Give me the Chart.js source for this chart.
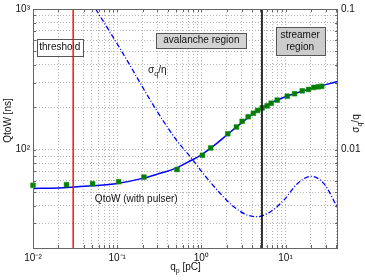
<!DOCTYPE html>
<html><head><meta charset="utf-8">
<script src="https://cdn.jsdelivr.net/npm/chart.js@4.4.1/dist/chart.umd.min.js"></script>
<style>html,body{margin:0;padding:0;background:#fff;}canvas{display:block;}</style>
</head><body>
<canvas id="c" width="365" height="280" style="width:365px;height:280px"></canvas>
<script>
// ---------- data ----------
const fitQ = [0.01,0.02,0.03,0.05,0.1,0.2,0.3,0.5,0.7,1,1.5,2,3,5,7,10,15,20,30,42];
const fitW = [53,53.5,54.2,55.3,57.5,62.5,67,74,82,92,110,127,155,195,218,238,258,271,290,306];

const measQ = [0.01,0.025,0.051,0.104,0.208,0.514,1.03,1.29,2.06,2.61,3.05,3.6,4.15,4.65,5.28,6.05,6.76,7.97,10.5,12.8,15.8,18.8,21.7,24.5,26.9];
const measW = [55.8,56.4,57.3,59.2,63.8,72.3,91.2,102.8,129.8,145,159,171.5,181.5,190,198,205,214,225,240,250,262,268,277,280,282];

const sigmaQ = [0.0555,0.1137,0.297,0.514,0.775,1.02,1.68,2.43,3.5,4.6,6.62,9.55,13.8,19.9,28.6,42];
const sigmaRatio = [0.1,0.0498,0.0188,0.01156,0.00859,0.00692,0.00488,0.00393,0.00343,0.00334,0.00362,0.00438,0.00573,0.00646,0.00573,0.0038];

const thresholdQ = [0.03, 0.03];
const streamerQ = [5.25, 5.25];
const markerSpanW = [20, 1000];

function decades(fromExp, toExp, lastMant) {
  const out = [];
  for (let e = fromExp; e <= toExp; e++) {
    for (let m = 1; m <= 9; m++) {
      if (e === toExp && m > lastMant) break;
      out.push(parseFloat((m * Math.pow(10, e)).toPrecision(3)));
    }
  }
  return out;
}
const xTickVals = decades(-2, 1, 4);          // 0.01 ... 40
const yTickVals = decades(1, 3, 1).slice(1);  // 20 ... 1000
const y2TickVals = decades(-3, -1, 1).slice(1); // 0.002 ... 0.1
const xTickLabels = [[0.01,'10⁻²'],[0.1,'10⁻¹'],[1,'10⁰'],[10,'10¹']];
const yTickLabels = [[100,'10²'],[1000,'10³']];
const y2TickLabels = [[0.01,'0.01'],[0.1,'0.1']];

const FONT = '"Liberation Sans", Arial, Helvetica, sans-serif';
Chart.defaults.font.family = FONT;

function labelFor(list) {
  return function (v) {
    for (const [k, t] of list) if (Math.abs(Math.log10(v) - Math.log10(k)) < 1e-6) return t;
    return '';
  };
}

function richWidth(ctx, parts) {
  let w = 0;
  for (const p of parts) { ctx.font = p.size + 'px ' + FONT; w += ctx.measureText(p.t).width; }
  return w;
}
function drawRich(ctx, parts, x, y, align) {
  const w = richWidth(ctx, parts);
  let cx = align === 'center' ? x - w / 2 : (align === 'right' ? x - w : x);
  ctx.textAlign = 'left'; ctx.textBaseline = 'alphabetic';
  for (const p of parts) {
    ctx.font = p.size + 'px ' + FONT;
    ctx.fillText(p.t, cx, y + (p.dy || 0));
    cx += ctx.measureText(p.t).width;
  }
}

// annotation boxes, anchored in data coordinates (q, QtoW)
const boxes = [
  { lines: ['threshold'], q: 0.0208, w: 536, bw: 46, bh: 17, fill: '#ffffff' },
  { lines: ['avalanche region'], q: 1.0, w: 600, bw: 90, bh: 15, fill: '#d4d4d4' },
  { lines: ['streamer', 'region'], q: 14.9, w: 596, bw: 49, bh: 28, fill: '#cccccc' }
];

const overlay = {
  id: 'overlay',
  beforeDatasetsDraw(chart) {
    const { ctx, scales } = chart;
    ctx.save();
    for (const b of boxes) {
      const cx = scales.x.getPixelForValue(b.q);
      const cy = scales.y.getPixelForValue(b.w);
      const x0 = Math.round(cx - b.bw / 2) + 0.5, y0 = Math.round(cy - b.bh / 2) + 0.5;
      ctx.fillStyle = b.fill;
      ctx.fillRect(x0, y0, b.bw, b.bh);
      ctx.strokeStyle = '#555'; ctx.lineWidth = 1;
      ctx.strokeRect(x0, y0, b.bw, b.bh);
      ctx.fillStyle = '#111';
      ctx.font = '10px ' + FONT; ctx.textAlign = 'center'; ctx.textBaseline = 'middle';
      const n = b.lines.length;
      b.lines.forEach((t, i) => ctx.fillText(t, cx, cy + (i - (n - 1) / 2) * 12 + 0.5));
    }
    ctx.restore();
  },
  afterDatasetsDraw(chart) {
    const { ctx, chartArea: a, scales } = chart;
    ctx.save();
    // inward tick marks
    ctx.strokeStyle = '#666'; ctx.lineWidth = 1;
    ctx.beginPath();
    for (const v of xTickVals) {
      const px = Math.round(scales.x.getPixelForValue(v)) + 0.5;
      ctx.moveTo(px, a.bottom); ctx.lineTo(px, a.bottom - 3);
      ctx.moveTo(px, a.top); ctx.lineTo(px, a.top + 3);
    }
    for (const v of yTickVals) {
      const py = Math.round(scales.y.getPixelForValue(v)) + 0.5;
      ctx.moveTo(a.left, py); ctx.lineTo(a.left + 3, py);
    }
    for (const v of y2TickVals) {
      const py = Math.round(scales.y2.getPixelForValue(v)) + 0.5;
      ctx.moveTo(a.right, py); ctx.lineTo(a.right - 3, py);
    }
    ctx.stroke();
    // frame
    ctx.strokeRect(Math.round(a.left) + 0.5, Math.round(a.top) + 0.5, Math.round(a.right - a.left) - 1, Math.round(a.bottom - a.top));

    ctx.fillStyle = '#111';
    // curve labels
    const sx = scales.x.getPixelForValue(0.233), sy = scales.y.getPixelForValue(349);
    drawRich(ctx, [{ t: 'σ', size: 10 }, { t: 'q', size: 7, dy: 3 }, { t: '/η', size: 10 }], sx, sy, 'left');
    const qx = scales.x.getPixelForValue(0.0543), qy = scales.y.getPixelForValue(42.4);
    drawRich(ctx, [{ t: 'QtoW (with pulser)', size: 10 }], qx, qy, 'left');

    // axis titles
    drawRich(ctx, [{ t: 'q', size: 10 }, { t: 'p', size: 7, dy: 3 }, { t: ' [pC]', size: 10 }], (a.left + a.right) / 2, 270, 'center');
    ctx.save();
    ctx.translate(11, (a.top + a.bottom) / 2 - 8);
    ctx.rotate(-Math.PI / 2);
    drawRich(ctx, [{ t: 'QtoW [ns]', size: 10 }], 0, 0, 'center');
    ctx.restore();
    ctx.save();
    ctx.translate(359, (a.top + a.bottom) / 2 - 5);
    ctx.rotate(-Math.PI / 2);
    drawRich(ctx, [{ t: 'σ', size: 10 }, { t: 'q', size: 7, dy: 3 }, { t: '/q', size: 10 }], 0, 0, 'center');
    ctx.restore();
    ctx.restore();
  }
};

const pts = (xs, ys) => xs.map((x, i) => ({ x, y: ys[i] }));
const gridCommon = { color: '#b4b4b4', lineWidth: 1, drawTicks: false };

new Chart(document.getElementById('c'), {
  type: 'scatter',
  data: {
    datasets: [
      { label: 'streamer', data: pts(streamerQ, markerSpanW), showLine: true, pointRadius: 0, borderColor: '#000000', borderWidth: 1.6, yAxisID: 'y' },
      { label: 'threshold', data: pts(thresholdQ, markerSpanW), showLine: true, pointRadius: 0, borderColor: '#ff0000', borderWidth: 1.4, yAxisID: 'y' },
      { label: 'measured', data: pts(measQ, measW), showLine: false, clip: false, pointStyle: 'rect', pointRadius: 3.4, backgroundColor: '#008000', borderColor: '#1a8a1a', borderWidth: 0.5, yAxisID: 'y' },
      { label: 'QtoW fit', data: pts(fitQ, fitW), showLine: true, pointRadius: 0, borderColor: '#0000ff', borderWidth: 1.5, cubicInterpolationMode: 'monotone', yAxisID: 'y' },
      { label: 'sigma', data: pts(sigmaQ, sigmaRatio), showLine: true, pointRadius: 0, borderColor: '#0000ff', borderWidth: 1.3, borderDash: [5, 2, 1, 2], cubicInterpolationMode: 'monotone', yAxisID: 'y2' }
    ]
  },
  options: {
    responsive: false, animation: false, devicePixelRatio: 1,
    layout: { padding: { top: 7, left: 0, right: 0, bottom: 0 } },
    plugins: { legend: { display: false }, tooltip: { enabled: false } },
    scales: {
      x: {
        type: 'logarithmic', position: 'bottom', min: 0.01, max: 42,
        afterFit: s => { s.height = 32; },
        afterBuildTicks: s => { s.ticks = xTickVals.map(v => ({ value: v })); },
        ticks: { autoSkip: false, maxRotation: 0, minRotation: 0, padding: 4, color: '#111', font: { size: 10 }, callback: labelFor(xTickLabels) },
        grid: gridCommon, border: { display: false, dash: [1, 2] }
      },
      y: {
        type: 'logarithmic', position: 'left', min: 20, max: 1000,
        afterFit: s => { s.width = 33; },
        afterBuildTicks: s => { s.ticks = yTickVals.map(v => ({ value: v })); },
        ticks: { autoSkip: false, padding: 3, color: '#111', font: { size: 10 }, callback: labelFor(yTickLabels) },
        grid: gridCommon, border: { display: false, dash: [1, 2] }
      },
      y2: {
        type: 'logarithmic', position: 'right', min: 0.002, max: 0.1,
        afterFit: s => { s.width = 27; },
        afterBuildTicks: s => { s.ticks = y2TickVals.map(v => ({ value: v })); },
        ticks: { autoSkip: false, padding: 3, color: '#111', font: { size: 10 }, callback: labelFor(y2TickLabels) },
        grid: { drawOnChartArea: false, drawTicks: false }, border: { display: false }
      }
    }
  },
  plugins: [overlay]
});
</script>
</body></html>
